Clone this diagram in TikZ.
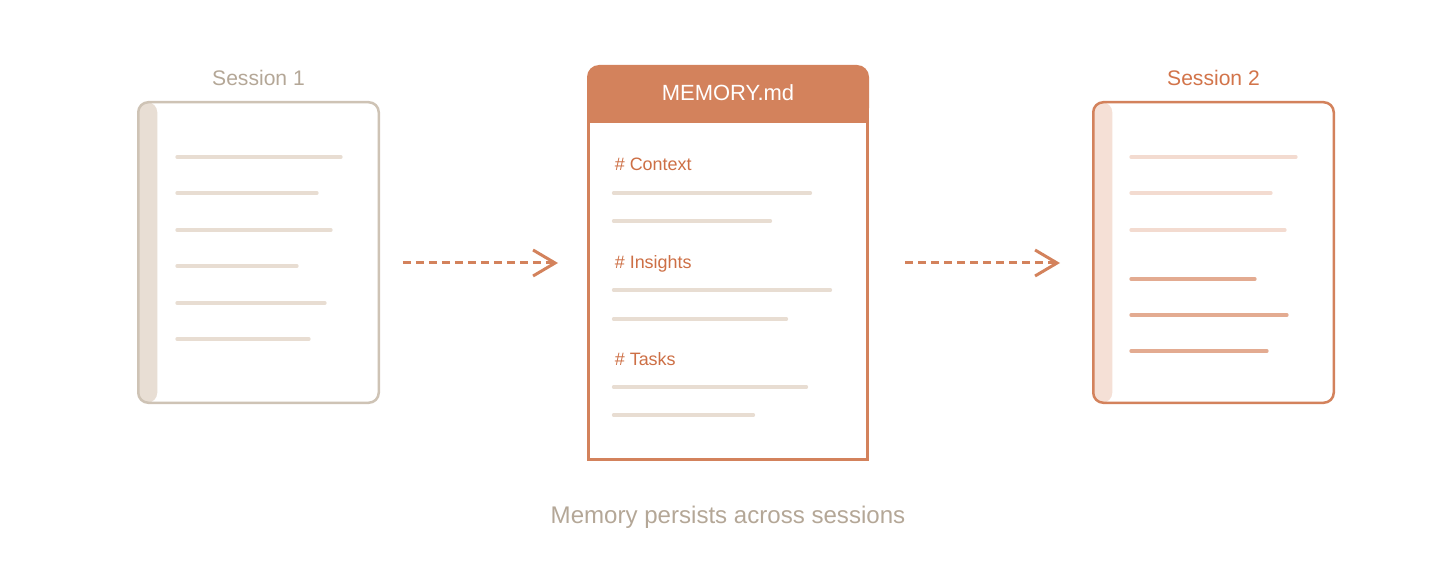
\documentclass[tikz,border=0pt]{standalone}
\usepackage{fontspec}
\setmainfont{Liberation Sans}
\usetikzlibrary{arrows.meta,positioning}
\definecolor{docgray}{HTML}{CEC3B5}
\definecolor{spinegray}{HTML}{E8DED4}
\definecolor{linegray}{HTML}{E8DDD2}
\definecolor{labelgray}{HTML}{B4A797}
\definecolor{memorange}{HTML}{D3825C}
\definecolor{mdtext}{HTML}{CD6F45}
\definecolor{sesstwo}{HTML}{D2744A}
\definecolor{spinepink}{HTML}{F5E0D6}
\definecolor{linepink}{HTML}{F3DBD0}
\definecolor{linerust}{HTML}{E3AB91}
\tikzset{
  doc/.style={rounded corners=0.2cm, line width=0.05cm, minimum width=4.81cm, minimum height=6.01cm, inner sep=0pt, outer sep=0pt, fill=white},
  txtline/.style={line width=0.065cm, line cap=round},
  mdhead/.style={text=mdtext, font=\fontsize{10.2}{12}\selectfont, inner sep=0pt, anchor=base west},
  flow/.style={draw=memorange, line width=0.06cm, dash pattern=on 0.16cm off 0.1cm, -{Straight Barb[length=0.44cm,width=0.52cm]}}
}
\begin{document}
\begin{tikzpicture}
\useasboundingbox (0,0) rectangle (29.12,-11.32);
% session 1
\node[doc, draw=docgray, path picture={\fill[spinegray] (path picture bounding box.south west) rectangle ([xshift=0.38cm]path picture bounding box.north west);}] (s1) at (5.17,-5.05) {};
\node[text=labelgray, font=\fontsize{12}{14}\selectfont, anchor=base] (s1lab) at (5.17,-1.72) {Session 1};
\draw[txtline, linegray] ([shift={(0.775,-1.095)}]s1.north west) -- ++(3.28,0);
\draw[txtline, linegray] ([shift={(0.775,-1.815)}]s1.north west) -- ++(2.80,0);
\draw[txtline, linegray] ([shift={(0.775,-2.555)}]s1.north west) -- ++(3.08,0);
\draw[txtline, linegray] ([shift={(0.775,-3.275)}]s1.north west) -- ++(2.40,0);
\draw[txtline, linegray] ([shift={(0.775,-4.015)}]s1.north west) -- ++(2.96,0);
\draw[txtline, linegray] ([shift={(0.775,-4.735)}]s1.north west) -- ++(2.64,0);
% memory file
\node[fill=memorange, rounded corners=0.24cm, minimum width=5.64cm, minimum height=1.1cm, inner sep=0pt, outer sep=0pt, text=white, font=\fontsize{12.5}{14}\selectfont] (head) at (14.56,-1.85) {MEMORY.md};
\fill[memorange] ([yshift=0.3cm]head.south west) rectangle (head.south east);
\node[draw=memorange, fill=white, line width=0.06cm, minimum width=5.58cm, minimum height=6.76cm, inner sep=0pt, outer sep=0pt] (mem) at (14.56,-5.81) {};
\node[mdhead] (ctx) at ([shift={(0.52,-0.98)}]mem.north west) {\# Context};
\draw[txtline, linegray] ([shift={(0.5,-1.43)}]mem.north west) -- ++(3.94,0);
\draw[txtline, linegray] ([shift={(0.5,-1.99)}]mem.north west) -- ++(3.14,0);
\node[mdhead] (ins) at ([shift={(0.52,-2.94)}]mem.north west) {\# Insights};
\draw[txtline, linegray] ([shift={(0.5,-3.37)}]mem.north west) -- ++(4.34,0);
\draw[txtline, linegray] ([shift={(0.5,-3.95)}]mem.north west) -- ++(3.46,0);
\node[mdhead] (tsk) at ([shift={(0.52,-4.88)}]mem.north west) {\# Tasks};
\draw[txtline, linegray] ([shift={(0.5,-5.31)}]mem.north west) -- ++(3.86,0);
\draw[txtline, linegray] ([shift={(0.5,-5.87)}]mem.north west) -- ++(2.80,0);
% session 2
\node[doc, draw=memorange, path picture={\fill[spinepink] (path picture bounding box.south west) rectangle ([xshift=0.38cm]path picture bounding box.north west);}] (s2) at (24.27,-5.05) {};
\node[text=sesstwo, font=\fontsize{12}{14}\selectfont, anchor=base] (s2lab) at (24.27,-1.72) {Session 2};
\draw[txtline, linepink] ([shift={(0.755,-1.095)}]s2.north west) -- ++(3.30,0);
\draw[txtline, linepink] ([shift={(0.755,-1.815)}]s2.north west) -- ++(2.80,0);
\draw[txtline, linepink] ([shift={(0.755,-2.555)}]s2.north west) -- ++(3.08,0);
\draw[txtline, linerust] ([shift={(0.755,-3.535)}]s2.north west) -- ++(2.48,0);
\draw[txtline, linerust] ([shift={(0.755,-4.255)}]s2.north west) -- ++(3.12,0);
\draw[txtline, linerust] ([shift={(0.755,-4.975)}]s2.north west) -- ++(2.72,0);
% arrows
\coordinate (flowrow) at (0,-5.26);
\draw[flow, shorten <=0.48cm, shorten >=0.61cm] (s1.east |- flowrow) -- (mem.west |- flowrow);
\draw[flow, shorten <=0.75cm, shorten >=0.665cm] (mem.east |- flowrow) -- (s2.west |- flowrow);
\node[text=labelgray, font=\fontsize{13.7}{16}\selectfont, anchor=base] (caption) at (14.56,-10.46) {Memory persists across sessions};
\end{tikzpicture}
\end{document}
